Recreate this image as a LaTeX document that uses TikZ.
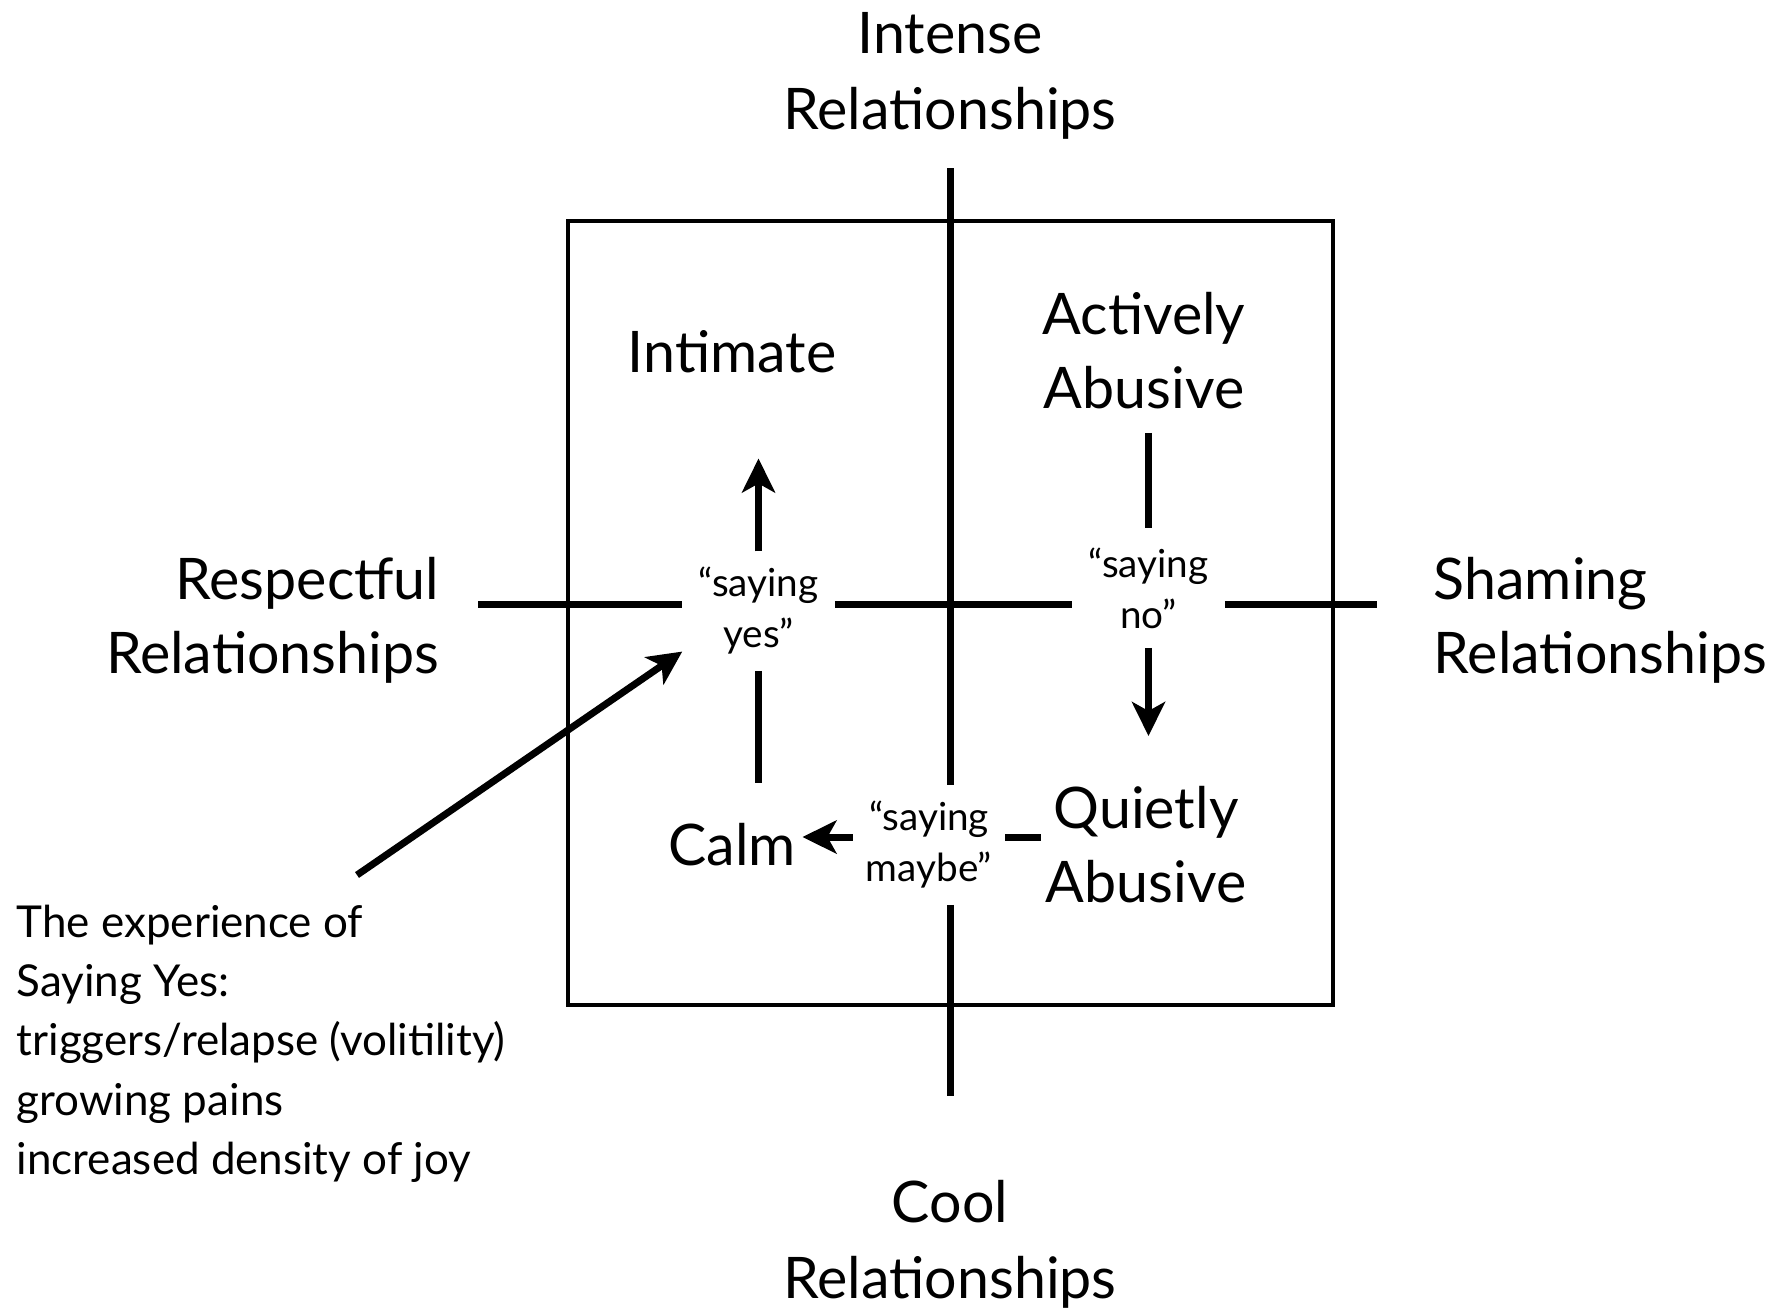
\documentclass[tikz,border=0pt]{standalone}
\usepackage{fontspec}
\setmainfont{Lato}
\usetikzlibrary{arrows.meta, positioning, calc}

\begin{document}
\begin{tikzpicture}[
    x=0.01cm, y=-0.01cm,
    axis/.style={line width=0.07cm},
    frame/.style={line width=0.045cm},
    big/.style={align=center, inner sep=0pt, font=\fontsize{16.3}{21}\selectfont},
    pole/.style={big, font=\fontsize{16.3}{21.7}\selectfont},
    saying/.style={align=center, inner sep=0pt, minimum width=1.51cm, minimum height=1.18cm, font=\fontsize{11}{14.5}\selectfont},
    note/.style={align=left, inner sep=0pt, font=\fontsize{12.5}{16.9}\selectfont},
    link/.style={line width=0.07cm},
    arrow/.style={link, -{Stealth[length=0.34cm, width=0.33cm, inset=0.09cm]}}
]
\useasboundingbox (0,0) rectangle (1779,1308);

% ==================== AXES ====================
\coordinate (top) at (950,168);
\coordinate (bottom) at (950,1096);
\coordinate (left) at (478,604);
\coordinate (right) at (1377,604);

\node[pole] (intense) at (950,76) {Intense\\Relationships};
\node[pole] (cool) at (950,1244) {Cool\\Relationships};
\node[big, align=right, anchor=east] (respectful) at (440,620) {Respectful\\Relationships};
\node[big, align=left, anchor=west] (shaming) at (1433,620) {Shaming\\Relationships};

% Frame
\draw[frame] (568,221) rectangle (1333,1005);

% ==================== QUADRANTS ====================
\node[big] (intimate) at (732,352) {Intimate};
\node[big] (active) at (1144,351) {Actively\\Abusive};
\node[big] (calm) at (732,845) {Calm};
\node[big] (quiet) at (1146,845) {Quietly\\Abusive};

% Transitions
\node[saying] (yes) at (758.5,611) {“saying\\yes”};
\node[saying] (no) at (1148.5,588) {“saying\\no”};
\node[saying] (maybe) at (929,845) {“saying\\maybe”};

% Axis lines, broken round the labels
\draw[axis] (top) -- (top |- maybe.north);
\draw[axis] (top |- maybe.south) -- (bottom);
\draw[axis] (left) -- (left -| yes.west);
\draw[axis] (left -| yes.east) -- (left -| no.west);
\draw[axis] (left -| no.east) -- (right);

% Cycle
\draw[link, shorten >=0.4cm] (yes.south) -- (yes.south |- calm.north);
\draw[arrow, shorten >=0.845cm] (yes.north) -- (intimate.south -| yes.north);
\draw[link, shorten <=0.23cm] (active.south -| no.north) -- (no.north);
\draw[arrow, shorten >=0.5cm] (no.south) -- (no.south |- quiet.north);
\draw[link, shorten >=0.04cm] ($(maybe.east |- calm)+(0,-8)$) -- ($(calm -| quiet.west)+(0,-8)$);
\draw[arrow, shorten >=0.06cm] ($(maybe.west |- calm)+(0,-8)$) -- ($(calm.east)+(0,-8)$);

% ==================== NOTE ====================
\node[note, anchor=north west] (note) at (16,904) {The experience of\\Saying Yes:\\triggers/relapse (volitility)\\growing pains\\increased density of joy};
\coordinate (tail) at (357,875);
\draw[arrow] (tail) -- (yes.208);

\end{tikzpicture}
\end{document}
